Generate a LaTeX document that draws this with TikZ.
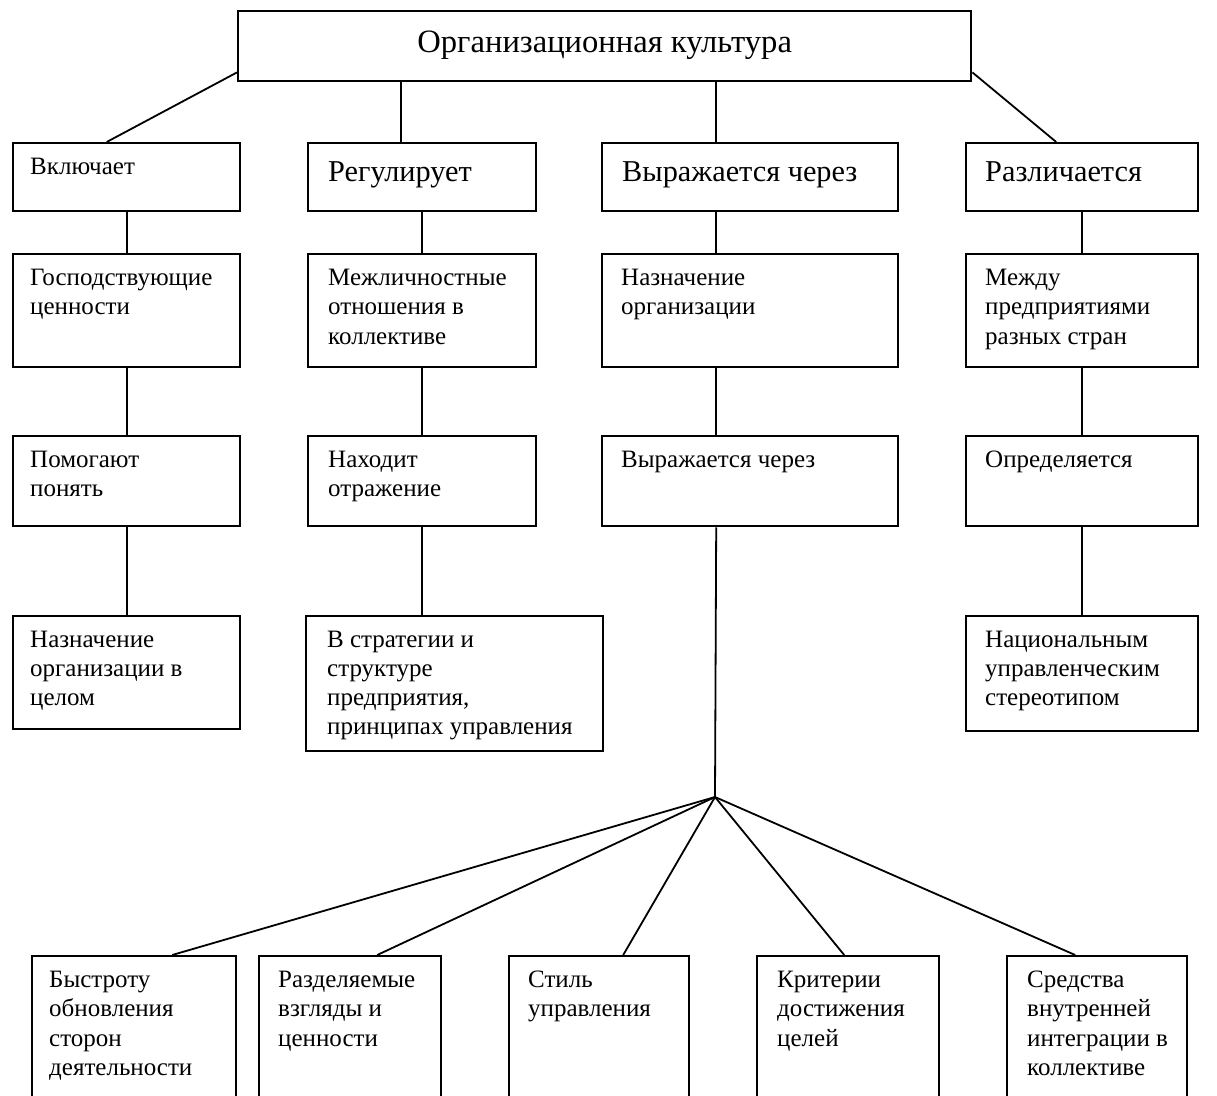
\documentclass[tikz,border=0pt]{standalone}
\usepackage{fontspec}
\setmainfont{Liberation Serif}
\usetikzlibrary{calc}
\begin{document}
\begin{tikzpicture}[x=1pt,y=-1pt,
  boxst/.style={draw, line width=2.4pt, inner sep=0pt, anchor=north west},
  conn/.style={line width=1.8pt},
  txts/.style={inner sep=0pt, anchor=north west, align=left, font=\fontsize{25}{29.3}\selectfont},
  txtl/.style={inner sep=0pt, anchor=north west, align=left, font=\fontsize{30.3}{34}\selectfont},
  txtb/.style={inner sep=0pt, anchor=north west, align=left, font=\fontsize{25}{29.5}\selectfont}]
\useasboundingbox (0,0) rectangle (1217,1095);
\clip (0,0) rectangle (1217,1095);
\newcommand\mkbox[5]{%
  \node[boxst, minimum width={#4-#2}, minimum height={#5-#3}] (#1) at (#2,#3) {};}
% top
\mkbox{top}{237}{10}{970}{80}
\node[inner sep=0pt, font=\fontsize{32.6}{36}\selectfont] (topt) at ([yshift=1pt]top.center) {Организационная культура};
% row 1
\mkbox{a1}{12}{142}{239}{210}
\mkbox{b1}{307}{142}{535}{210}
\mkbox{c1}{601}{142}{897}{210}
\mkbox{d1}{965}{142}{1197}{210}
\node[txts] (a1t) at ([xshift=18pt,yshift=-16pt]a1.north west) {Включает};
\node[txtl] (b1t) at ([xshift=21pt,yshift=-19pt]b1.north west) {Регулирует};
\node[txtl] (c1t) at ([xshift=21pt,yshift=-19pt]c1.north west) {Выражается через};
\node[txtl] (d1t) at ([xshift=20pt,yshift=-19pt]d1.north west) {Различается};
% row 2
\mkbox{a2}{12}{253}{239}{366}
\mkbox{b2}{307}{253}{535}{366}
\mkbox{c2}{601}{253}{897}{366}
\mkbox{d2}{965}{253}{1197}{366}
\node[txts] (a2t) at ([xshift=18pt,yshift=-16pt]a2.north west) {Господствующие\\ценности};
\node[txts] (b2t) at ([xshift=21pt,yshift=-16pt]b2.north west) {Межличностные\\отношения в\\коллективе};
\node[txts] (c2t) at ([xshift=20pt,yshift=-16pt]c2.north west) {Назначение\\организации};
\node[txts] (d2t) at ([xshift=20pt,yshift=-16pt]d2.north west) {Между\\предприятиями\\разных стран};
% row 3
\mkbox{a3}{12}{435}{239}{525}
\mkbox{b3}{307}{435}{535}{525}
\mkbox{c3}{601}{435}{897}{525}
\mkbox{d3}{965}{435}{1197}{525}
\node[txts] (a3t) at ([xshift=18pt,yshift=-15.5pt]a3.north west) {Помогают\\понять};
\node[txts] (b3t) at ([xshift=21pt,yshift=-15.5pt]b3.north west) {Находит\\отражение};
\node[txts] (c3t) at ([xshift=20pt,yshift=-15.5pt]c3.north west) {Выражается через};
\node[txts] (d3t) at ([xshift=20pt,yshift=-15.5pt]d3.north west) {Определяется};
% row 4
\mkbox{a4}{12}{615}{239}{728}
\mkbox{b4}{305}{615}{602}{750}
\mkbox{d4}{965}{615}{1197}{730}
\node[txts] (a4t) at ([xshift=18pt,yshift=-15.5pt]a4.north west) {Назначение\\организации в\\целом};
\node[txts] (b4t) at ([xshift=22pt,yshift=-15.5pt]b4.north west) {В стратегии и\\структуре\\предприятия,\\принципах управления};
\node[txts] (d4t) at ([xshift=20pt,yshift=-15.5pt]d4.north west) {Национальным\\управленческим\\стереотипом};
% bottom row
\mkbox{e1}{31}{955}{235}{1120}
\mkbox{e2}{258}{955}{440}{1120}
\mkbox{e3}{508}{955}{688}{1120}
\mkbox{e4}{756}{955}{938}{1120}
\mkbox{e5}{1006}{955}{1186}{1120}
\node[txtb] (e1t) at ([xshift=18pt,yshift=-15.5pt]e1.north west) {Быстроту\\обновления\\сторон\\деятельности};
\node[txtb] (e2t) at ([xshift=20pt,yshift=-15.5pt]e2.north west) {Разделяемые\\взгляды и\\ценности};
\node[txtb] (e3t) at ([xshift=20pt,yshift=-15.5pt]e3.north west) {Стиль\\управления};
\node[txtb] (e4t) at ([xshift=21pt,yshift=-15.5pt]e4.north west) {Критерии\\достижения\\целей};
\node[txtb] (e5t) at ([xshift=21pt,yshift=-15.5pt]e5.north west) {Средства\\внутренней\\интеграции в\\коллективе};
\coordinate (hub) at (715,797);
% connectors from top
\draw[conn] ([yshift=10pt]top.south west) -- ([xshift=-20pt]a1.north);
\draw[conn] ([yshift=10pt]top.south east) -- ([xshift=-26pt]d1.north);
\draw[conn] ([xshift=-21pt]b1.north) -- ([xshift=-21pt]b1.north |- top.south);
\draw[conn] ([xshift=-34pt]c1.north) -- ([xshift=-34pt]c1.north |- top.south);
% column connectors
\draw[conn] (a1.south) -- (a2.north);
\draw[conn] (a2.south) -- (a3.north);
\draw[conn] (a3.south) -- (a4.north);
\draw[conn] (b1.south) -- (b2.north);
\draw[conn] (b2.south) -- (b3.north);
\draw[conn] (b3.south) -- (b3.south |- b4.north);
\draw[conn] ([xshift=-34pt]c1.south) -- ([xshift=-34pt]c2.north);
\draw[conn] ([xshift=-34pt]c2.south) -- ([xshift=-34pt]c3.north);
\draw[conn] ([xshift=-34pt]c3.south) -- (hub);
\draw[conn] (d1.south) -- (d2.north);
\draw[conn] (d2.south) -- (d3.north);
\draw[conn] (d3.south) -- (d4.north);
% fan to bottom
\draw[conn] (hub) -- ([xshift=38pt]e1.north);
\draw[conn] (hub) -- ([xshift=27pt]e2.north);
\draw[conn] (hub) -- ([xshift=24pt]e3.north);
\draw[conn] (hub) -- ([xshift=-4pt]e4.north);
\draw[conn] (hub) -- ([xshift=-22pt]e5.north);
\end{tikzpicture}
\end{document}
